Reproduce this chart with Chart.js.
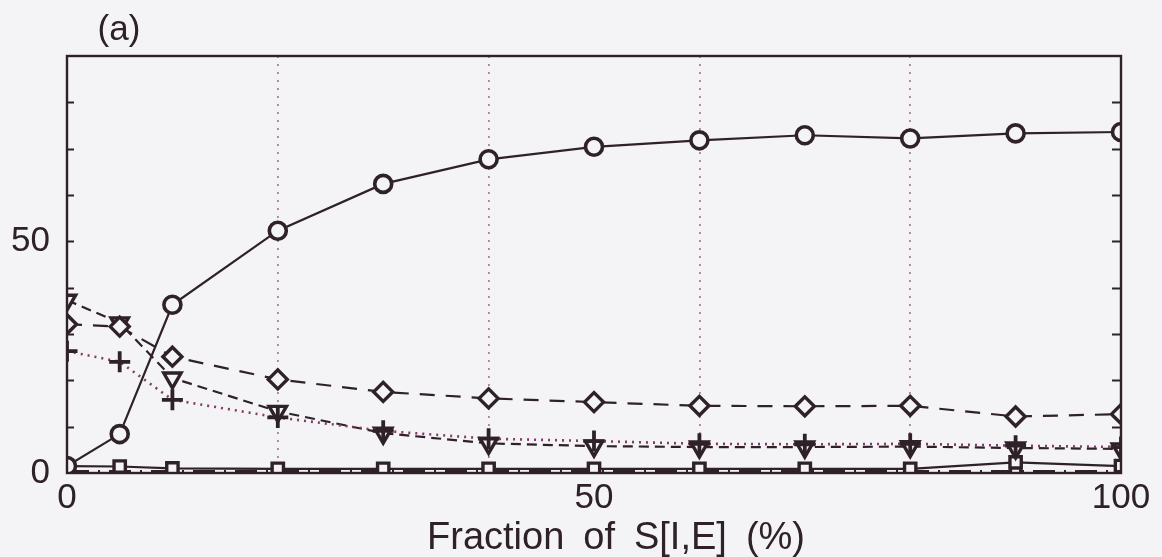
<!DOCTYPE html>
<html>
<head>
<meta charset="utf-8">
<script src="https://cdn.jsdelivr.net/npm/chart.js@4.4.1/dist/chart.umd.min.js"></script>
<style>
  html, body { margin: 0; padding: 0; background: #f4f3f5; }
  #wrap { width: 1162px; height: 557px; }
</style>
</head>
<body>
<div id="wrap"><canvas id="c" width="1162" height="557"></canvas></div>
<script>
// Fraction of S[I,E] (%) on the horizontal axis
const fractions = [0, 5, 10, 20, 30, 40, 50, 60, 70, 80, 90, 100];

// One array per curve
const circleSeries   = [1.5, 8.4, 36.3, 52.3, 62.4, 67.7, 70.4, 71.8, 72.9, 72.2, 73.3, 73.6];
const diamondSeries  = [32.1, 31.6, 25.1, 20.2, 17.5, 16.1, 15.3, 14.5, 14.4, 14.5, 12.2, 12.7];
const triangleSeries = [37.3, 32.4, 20.5, 13.3, 8.6, 6.4, 5.8, 5.6, 5.6, 5.7, 5.4, 5.2];
const plusSeries     = [26.3, 24.0, 15.8, 12.0, 9.1, 7.4, 6.9, 6.3, 6.2, 6.3, 5.9, 5.6];
const squareSeries   = [1.5, 1.4, 1.0, 0.9, 0.9, 0.9, 0.9, 0.9, 0.9, 0.9, 2.3, 1.5];
const dashDotSeries  = [0.4, 0.4, 0.4, 0.4, 0.4, 0.4, 0.4, 0.4, 0.4, 0.4, 0.4, 0.4];

// Axis labels
const xTickLabels = [0, 50, 100];
const yTickLabels = [0, 50];
const xGridAt = [20, 40, 60, 80];
const xTitle = 'Fraction\u2002of\u2002S[I,E]\u2002(%)';
const panelLabel = '(a)';

const INK = '#2e2228';
const PAPER = '#f4f3f5';
const MAUVE = '#843a68';
const FONT = '"Liberation Sans", Arial, sans-serif';

const pts = arr => arr.map((v, i) => ({ x: fractions[i], y: v }));

function series(data, style) {
  return Object.assign({
    data: pts(data),
    borderColor: INK,
    borderWidth: 2.2,
    pointBorderColor: INK,
    pointBackgroundColor: PAPER,
    pointBorderWidth: 3.6,
    pointHoverRadius: 0,
    tension: 0,
    clip: 0
  }, style);
}

// Paper background, frame, inward tick marks, panel letter and axis title
const framePlugin = {
  id: 'frame',
  beforeDraw(chart) {
    const { ctx, width, height } = chart;
    ctx.save();
    ctx.fillStyle = PAPER;
    ctx.fillRect(0, 0, width, height);
    ctx.restore();
  },
  afterDraw(chart) {
    const { ctx, chartArea: a } = chart;
    const y = chart.scales.y;
    ctx.save();
    ctx.strokeStyle = INK;
    ctx.lineWidth = 2.4;
    ctx.strokeRect(a.left, a.top, a.right - a.left, a.bottom - a.top);
    ctx.lineWidth = 1.8;
    for (let v = 10; v < 90; v += 10) {
      const py = Math.round(y.getPixelForValue(v)) + 0.5;
      ctx.beginPath();
      ctx.moveTo(a.left, py); ctx.lineTo(a.left + 7, py);
      ctx.moveTo(a.right, py); ctx.lineTo(a.right - 9, py);
      ctx.stroke();
    }
    ctx.fillStyle = INK;
    ctx.textAlign = 'center';
    ctx.textBaseline = 'middle';
    ctx.font = '35px ' + FONT;
    ctx.fillText(panelLabel, 119, 30);
    ctx.font = '38px ' + FONT;
    ctx.textBaseline = 'alphabetic';
    ctx.fillText(xTitle, 616, 549);
    ctx.restore();
  }
};

// Earlier datasets are painted on top, so the crosses sit over the triangles
new Chart(document.getElementById('c'), {
  type: 'line',
  data: {
    datasets: [
      series(circleSeries,   { pointStyle: 'circle',   pointRadius: 8.5 }),
      series(diamondSeries,  { pointStyle: 'rectRot',  pointRadius: 9.5, pointBorderWidth: 3.4, borderDash: [15, 11] }),
      series(plusSeries,     { pointStyle: 'cross',    pointRadius: 10.5, pointBorderWidth: 3.8, borderColor: MAUVE, borderWidth: 2.6, borderDash: [2, 5] }),
      series(triangleSeries, { pointStyle: 'triangle', pointRadius: 10, pointBorderWidth: 3.4, pointRotation: 180, borderDash: [10, 6] }),
      series(squareSeries,   { pointStyle: 'rect',     pointRadius: 8, pointBorderWidth: 3.4 }),
      series(dashDotSeries,  { pointStyle: 'rect',     pointRadius: 7, pointBorderWidth: 3, borderDash: [22, 9, 2, 9] })
    ]
  },
  options: {
    responsive: false,
    animation: false,
    events: [],
    layout: { padding: { top: 56, right: 41, left: 0, bottom: 0 } },
    plugins: { legend: { display: false }, tooltip: { enabled: false } },
    scales: {
      x: {
        type: 'linear',
        min: 0, max: 100,
        afterFit(s) { s.height = 84; },
        afterBuildTicks(s) {
          const vals = [];
          for (let v = 0; v <= 100; v += 10) vals.push(v);
          s.ticks = vals.map(v => ({ value: v }));
        },
        ticks: {
          autoSkip: false,
          maxRotation: 0,
          padding: 4,
          color: INK,
          font: { family: FONT, size: 35 },
          callback: v => xTickLabels.includes(v) ? String(v) : ''
        },
        grid: {
          drawTicks: false,
          lineWidth: 1.8,
          color: c => (c.tick && xGridAt.includes(c.tick.value)) ? '#b27ea6' : 'rgba(0,0,0,0)'
        },
        border: { display: false, dash: [2, 6] }
      },
      y: {
        type: 'linear',
        min: 0, max: 90,
        afterFit(s) { s.width = 67; },
        ticks: {
          stepSize: 10,
          autoSkip: false,
          padding: 17,
          color: INK,
          font: { family: FONT, size: 35 },
          callback: v => yTickLabels.includes(v) ? String(v) : ''
        },
        grid: { display: false, drawTicks: false },
        border: { display: false }
      }
    }
  },
  plugins: [framePlugin]
});
</script>
</body>
</html>
